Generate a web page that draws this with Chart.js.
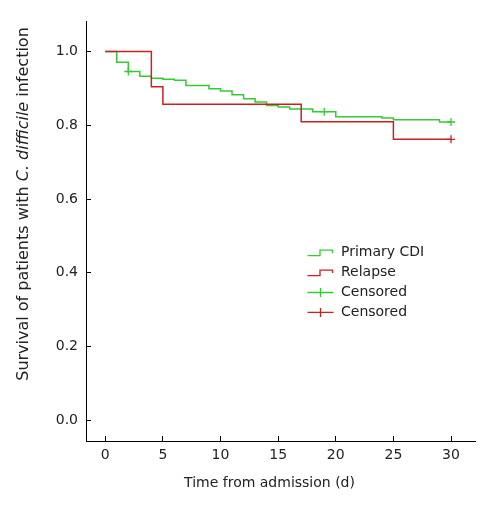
<!DOCTYPE html>
<html>
<head>
<meta charset="utf-8">
<script src="https://cdn.jsdelivr.net/npm/chart.js@4.4.0/dist/chart.umd.min.js"></script>
<style>
  html, body { margin: 0; padding: 0; background: #fff; }
</style>
</head>
<body>
<canvas id="km" width="489" height="506"></canvas>
<script>
// Kaplan-Meier steps: day of each drop and the survival after it
const primaryDays = [0, 1, 2, 3, 4, 5, 6, 7, 9, 10, 11, 12, 13, 14, 15, 16, 18, 20, 24, 25, 29, 30];
const primarySurv = [1, 0.971, 0.946, 0.933, 0.928, 0.925, 0.922, 0.908, 0.899, 0.893, 0.883, 0.872,
                     0.863, 0.854, 0.850, 0.844, 0.837, 0.823, 0.820, 0.815, 0.809, 0.809];
const relapseDays = [0, 4, 5, 17, 25, 30];
const relapseSurv = [1, 0.905, 0.857, 0.810, 0.762, 0.762];

// censored observations
const primaryCensorDays = [2, 19, 30];
const primaryCensorSurv = [0.946, 0.837, 0.809];
const relapseCensorDays = [30];
const relapseCensorSurv = [0.762];

const xTicks = [0, 5, 10, 15, 20, 25, 30];
const yTicks = [0, 0.2, 0.4, 0.6, 0.8, 1.0];

const xTitle = 'Time from admission (d)';
const yTitleParts = [['Survival of patients with ', false], ['C. difficile', true], [' infection', false]];

const GREEN = '#33cc33';
const RED = '#cc1f1f';
const FONT_FAMILY = '"DejaVu Sans", sans-serif';

function pts(days, surv) {
    return days.map((d, i) => ({ x: d, y: surv[i] }));
}

// legend drawn inside the plot, icons like the original
const legendBox = {
    id: 'legendBox',
    afterDraw(chart) {
        const ctx = chart.ctx;
        ctx.save();
        ctx.font = '14px ' + FONT_FAMILY;
        ctx.textBaseline = 'middle';
        ctx.textAlign = 'left';
        chart.data.datasets.forEach((ds, i) => {
            const y = 252.7 + i * 19.9;
            const x = 307.5;
            ctx.strokeStyle = ds.borderColor;
            ctx.lineWidth = 1.3;
            ctx.beginPath();
            if (ds.showLine === false) {
                ctx.moveTo(x, y); ctx.lineTo(x + 26, y);
                ctx.moveTo(x + 13, y - 4.5); ctx.lineTo(x + 13, y + 4.5);
            } else {
                ctx.moveTo(x, y + 3); ctx.lineTo(x + 12.5, y + 3);
                ctx.lineTo(x + 12.5, y - 2.5); ctx.lineTo(x + 25, y - 2.5);
                ctx.lineTo(x + 25, y + 0.5);
            }
            ctx.stroke();
            ctx.fillStyle = '#222';
            ctx.fillText(ds.label, 341, y);
        });
        ctx.restore();
    }
};

// axis titles (y one has italic species name)
const axisTitles = {
    id: 'axisTitles',
    afterDraw(chart) {
        const ctx = chart.ctx;
        ctx.save();
        ctx.fillStyle = '#222';
        ctx.textBaseline = 'alphabetic';
        ctx.font = '14px ' + FONT_FAMILY;
        ctx.textAlign = 'center';
        ctx.fillText(xTitle, 269.5, 487);

        const ySize = '16px ';
        ctx.translate(28, 204);
        ctx.rotate(-Math.PI / 2);
        ctx.textAlign = 'left';
        let total = 0;
        yTitleParts.forEach(([t, it]) => {
            ctx.font = (it ? 'italic ' : '') + ySize + FONT_FAMILY;
            total += ctx.measureText(t).width;
        });
        let pos = -total / 2;
        yTitleParts.forEach(([t, it]) => {
            ctx.font = (it ? 'italic ' : '') + ySize + FONT_FAMILY;
            ctx.fillText(t, pos, 0);
            pos += ctx.measureText(t).width;
        });
        ctx.restore();
    }
};

Chart.defaults.font.family = FONT_FAMILY;
Chart.defaults.font.size = 14;

const chart = new Chart('km', {
    type: 'line',
    data: {
        datasets: [
            {
                label: 'Primary CDI',
                data: pts(primaryDays, primarySurv),
                stepped: true,
                borderColor: GREEN,
                borderWidth: 1.5,
                pointRadius: 0,
                fill: false,
                order: 2
            },
            {
                label: 'Relapse',
                data: pts(relapseDays, relapseSurv),
                stepped: true,
                borderColor: RED,
                borderWidth: 1.5,
                pointRadius: 0,
                fill: false,
                order: 1
            },
            {
                label: 'Censored',
                data: pts(primaryCensorDays, primaryCensorSurv),
                showLine: false,
                pointStyle: 'cross',
                pointRadius: 4,
                borderColor: GREEN,
                pointBorderWidth: 1.3,
                order: 0
            },
            {
                label: 'Censored',
                data: pts(relapseCensorDays, relapseCensorSurv),
                showLine: false,
                pointStyle: 'cross',
                pointRadius: 4,
                borderColor: RED,
                pointBorderWidth: 1.3,
                order: 0
            }
        ]
    },
    options: {
        responsive: false,
        animation: false,
        devicePixelRatio: 1,
        layout: { padding: { top: 18, right: 14, left: 0, bottom: 0 } },
        plugins: {
            legend: { display: false },
            tooltip: { enabled: false }
        },
        scales: {
            x: {
                type: 'linear',
                min: -1.67,
                max: 32.08,
                afterFit: (s) => { s.height = 65; },
                afterBuildTicks: (s) => { s.ticks = xTicks.map(v => ({ value: v })); },
                grid: { display: true, drawOnChartArea: false, drawTicks: true, tickLength: -5, color: '#000', tickColor: '#000' },
                border: { display: true, color: '#000', width: 1 },
                ticks: { color: '#222', padding: 11, maxRotation: 0, callback: (v) => v }
            },
            y: {
                type: 'linear',
                min: -0.0565,
                max: 1.082,
                afterFit: (s) => { s.width = 86; },
                afterBuildTicks: (s) => { s.ticks = yTicks.map(v => ({ value: v })); },
                grid: { display: true, drawOnChartArea: false, drawTicks: true, tickLength: -5, color: '#000', tickColor: '#000' },
                border: { display: true, color: '#000', width: 1 },
                ticks: { color: '#222', padding: 13, callback: (v) => v.toFixed(1) }
            }
        }
    },
    plugins: [legendBox, axisTitles]
});
</script>
</body>
</html>
